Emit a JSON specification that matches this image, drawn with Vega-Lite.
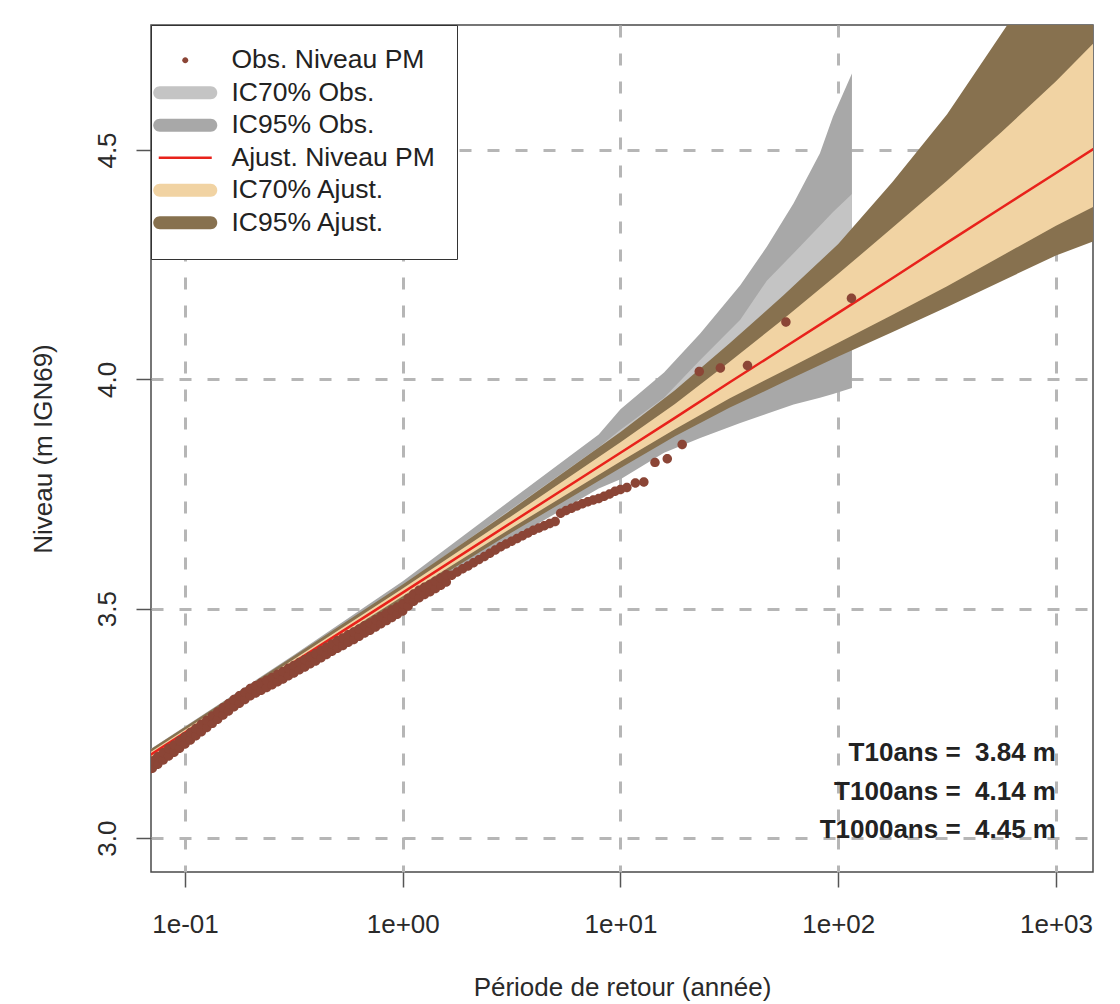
{
  "$schema": "https://vega.github.io/schema/vega-lite/v6.json",
  "width": 942,
  "height": 847,
  "autosize": {"type": "none"},
  "padding": {"left": 151, "top": 25, "right": 27, "bottom": 132},
  "background": "white",
  "config": {
    "font": "Liberation Sans",
    "view": {"stroke": "#4a4a4a", "strokeWidth": 1.5},
    "axis": {
      "domain": false,
      "grid": true,
      "gridColor": "#b6b6b6",
      "gridDash": [12, 16],
      "gridWidth": 3,
      "ticks": true,
      "tickColor": "#555555",
      "tickSize": 15,
      "tickWidth": 1.5,
      "labelFont": "Liberation Sans",
      "labelFontSize": 26,
      "labelColor": "#2a2a2a",
      "titleFont": "Liberation Sans",
      "titleFontSize": 26,
      "titleFontWeight": "normal",
      "titleColor": "#2a2a2a",
      "labelFlush": false,
      "labelOverlap": false,
      "zindex": 1
    }
  },
  "datasets": {
    "obs": [
      {"T":0.06683,"v":3.144},{"T":0.06683,"v":3.160},
      {"T":0.07079,"v":3.152},{"T":0.07079,"v":3.168},
      {"T":0.07499,"v":3.161},{"T":0.07499,"v":3.177},
      {"T":0.07943,"v":3.170},{"T":0.07943,"v":3.186},
      {"T":0.08414,"v":3.179},{"T":0.08414,"v":3.195},
      {"T":0.08913,"v":3.187},{"T":0.08913,"v":3.203},
      {"T":0.09441,"v":3.196},{"T":0.09441,"v":3.212},
      {"T":0.1,"v":3.205},{"T":0.1,"v":3.221},
      {"T":0.1059,"v":3.214},{"T":0.1059,"v":3.230},
      {"T":0.1122,"v":3.223},{"T":0.1122,"v":3.239},
      {"T":0.1189,"v":3.232},{"T":0.1189,"v":3.248},
      {"T":0.1259,"v":3.241},{"T":0.1259,"v":3.257},
      {"T":0.1334,"v":3.250},{"T":0.1334,"v":3.266},
      {"T":0.1413,"v":3.259},{"T":0.1413,"v":3.275},
      {"T":0.1496,"v":3.268},{"T":0.1496,"v":3.284},
      {"T":0.1585,"v":3.277},{"T":0.1585,"v":3.293},
      {"T":0.1679,"v":3.286},{"T":0.1679,"v":3.302},
      {"T":0.1778,"v":3.294},{"T":0.1778,"v":3.310},
      {"T":0.1884,"v":3.302},{"T":0.1884,"v":3.318},
      {"T":0.1995,"v":3.310},{"T":0.1995,"v":3.326},
      {"T":0.2113,"v":3.316},{"T":0.2113,"v":3.332},
      {"T":0.2239,"v":3.322},{"T":0.2239,"v":3.338},
      {"T":0.2371,"v":3.328},{"T":0.2371,"v":3.344},
      {"T":0.2512,"v":3.334},{"T":0.2512,"v":3.350},
      {"T":0.2661,"v":3.341},{"T":0.2661,"v":3.357},
      {"T":0.2818,"v":3.347},{"T":0.2818,"v":3.363},
      {"T":0.2985,"v":3.354},{"T":0.2985,"v":3.370},
      {"T":0.3162,"v":3.360},{"T":0.3162,"v":3.376},
      {"T":0.3350,"v":3.367},{"T":0.3350,"v":3.383},
      {"T":0.3548,"v":3.373},{"T":0.3548,"v":3.389},
      {"T":0.3758,"v":3.380},{"T":0.3758,"v":3.396},
      {"T":0.3981,"v":3.386},{"T":0.3981,"v":3.402},
      {"T":0.4217,"v":3.393},{"T":0.4217,"v":3.409},
      {"T":0.4467,"v":3.400},{"T":0.4467,"v":3.416},
      {"T":0.4732,"v":3.407},{"T":0.4732,"v":3.423},
      {"T":0.5012,"v":3.414},{"T":0.5012,"v":3.430},
      {"T":0.5309,"v":3.420},{"T":0.5309,"v":3.436},
      {"T":0.5623,"v":3.427},{"T":0.5623,"v":3.443},
      {"T":0.5957,"v":3.433},{"T":0.5957,"v":3.449},
      {"T":0.6310,"v":3.440},{"T":0.6310,"v":3.456},
      {"T":0.6683,"v":3.447},{"T":0.6683,"v":3.463},
      {"T":0.7079,"v":3.453},{"T":0.7079,"v":3.469},
      {"T":0.7499,"v":3.460},{"T":0.7499,"v":3.476},
      {"T":0.7943,"v":3.467},{"T":0.7943,"v":3.483},
      {"T":0.8414,"v":3.474},{"T":0.8414,"v":3.490},
      {"T":0.8913,"v":3.481},{"T":0.8913,"v":3.497},
      {"T":0.9441,"v":3.488},{"T":0.9441,"v":3.504},
      {"T":1.0,"v":3.495},{"T":1.0,"v":3.511},
      {"T":1.059,"v":3.506},{"T":1.059,"v":3.522},
      {"T":1.122,"v":3.516},{"T":1.122,"v":3.532},
      {"T":1.189,"v":3.524},{"T":1.189,"v":3.540},
      {"T":1.259,"v":3.531},{"T":1.259,"v":3.547},
      {"T":1.334,"v":3.537},{"T":1.334,"v":3.553},
      {"T":1.413,"v":3.544},{"T":1.413,"v":3.560},
      {"T":1.496,"v":3.551},{"T":1.496,"v":3.567},
      {"T":1.585,"v":3.558},{"T":1.585,"v":3.574},
      {"T":1.679,"v":3.573},
      {"T":1.778,"v":3.580},
      {"T":1.884,"v":3.587},
      {"T":1.995,"v":3.593},
      {"T":2.113,"v":3.600},
      {"T":2.239,"v":3.607},
      {"T":2.371,"v":3.614},
      {"T":2.512,"v":3.621},
      {"T":2.661,"v":3.628},
      {"T":2.818,"v":3.635},
      {"T":2.985,"v":3.641},
      {"T":3.162,"v":3.647},
      {"T":3.350,"v":3.653},
      {"T":3.548,"v":3.659},
      {"T":3.758,"v":3.665},
      {"T":3.981,"v":3.671},
      {"T":4.217,"v":3.676},
      {"T":4.467,"v":3.681},
      {"T":4.732,"v":3.686},
      {"T":5.012,"v":3.690},
      {"T":5.309,"v":3.708},
      {"T":5.623,"v":3.714},
      {"T":5.957,"v":3.719},
      {"T":6.310,"v":3.724},
      {"T":6.683,"v":3.729},
      {"T":7.079,"v":3.733},
      {"T":7.499,"v":3.737},
      {"T":7.943,"v":3.740},
      {"T":8.414,"v":3.745},
      {"T":8.913,"v":3.750},
      {"T":9.441,"v":3.756},
      {"T":10.0,"v":3.760},
      {"T":10.7,"v":3.764},
      {"T":11.7,"v":3.774},
      {"T":12.8,"v":3.776},
      {"T":14.4,"v":3.819},
      {"T":16.4,"v":3.827},
      {"T":19.2,"v":3.858},
      {"T":23.0,"v":4.017},
      {"T":28.75,"v":4.025},
      {"T":38.3,"v":4.030},
      {"T":57.5,"v":4.125},
      {"T":115.0,"v":4.177}
    ],
    "obsci": [
      {"T":0.0631,"lo95":3.158,"hi95":3.181,"lo70":3.167,"hi70":3.176},
      {"T":0.3162,"lo95":3.368,"hi95":3.399,"lo70":3.379,"hi70":3.392},
      {"T":1.0,"lo95":3.512,"hi95":3.560,"lo70":3.528,"hi70":3.550},
      {"T":3.162,"lo95":3.652,"hi95":3.738,"lo70":3.674,"hi70":3.718},
      {"T":7.943,"lo95":3.762,"hi95":3.880,"lo70":3.787,"hi70":3.852},
      {"T":10.0,"lo95":3.782,"hi95":3.935,"lo70":3.815,"hi70":3.890},
      {"T":15.85,"lo95":3.840,"hi95":4.015,"lo70":3.870,"hi70":3.960},
      {"T":23.23,"lo95":3.872,"hi95":4.100,"lo70":3.913,"hi70":4.042},
      {"T":35.48,"lo95":3.905,"hi95":4.205,"lo70":3.957,"hi70":4.130},
      {"T":46.99,"lo95":3.925,"hi95":4.289,"lo70":3.985,"hi70":4.215},
      {"T":62.37,"lo95":3.945,"hi95":4.384,"lo70":4.012,"hi70":4.275},
      {"T":82.41,"lo95":3.960,"hi95":4.493,"lo70":4.039,"hi70":4.335},
      {"T":94.62,"lo95":3.968,"hi95":4.573,"lo70":4.053,"hi70":4.365},
      {"T":115.6,"lo95":3.981,"hi95":4.667,"lo70":4.071,"hi70":4.404}
    ],
    "fit": [
      {"T":0.0631,"niveau":3.169,"lo95":3.159,"hi95":3.181,"lo70":3.164,"hi70":3.175},
      {"T":0.1,"niveau":3.230,"lo95":3.220,"hi95":3.242,"lo70":3.225,"hi70":3.236},
      {"T":0.3162,"niveau":3.383,"lo95":3.371,"hi95":3.397,"lo70":3.377,"hi70":3.390},
      {"T":1.0,"niveau":3.535,"lo95":3.520,"hi95":3.553,"lo70":3.527,"hi70":3.544},
      {"T":3.162,"niveau":3.688,"lo95":3.666,"hi95":3.716,"lo70":3.676,"hi70":3.702},
      {"T":10.0,"niveau":3.840,"lo95":3.807,"hi95":3.885,"lo70":3.821,"hi70":3.863},
      {"T":17.78,"niveau":3.916,"lo95":3.876,"hi95":3.976,"lo70":3.891,"hi70":3.946},
      {"T":31.62,"niveau":3.993,"lo95":3.938,"hi95":4.078,"lo70":3.958,"hi70":4.038},
      {"T":56.23,"niveau":4.069,"lo95":3.994,"hi95":4.184,"lo70":4.019,"hi70":4.132},
      {"T":100.0,"niveau":4.145,"lo95":4.050,"hi95":4.295,"lo70":4.080,"hi70":4.230},
      {"T":177.8,"niveau":4.221,"lo95":4.103,"hi95":4.431,"lo70":4.141,"hi70":4.331},
      {"T":316.2,"niveau":4.298,"lo95":4.158,"hi95":4.578,"lo70":4.203,"hi70":4.433},
      {"T":562.3,"niveau":4.374,"lo95":4.214,"hi95":4.754,"lo70":4.269,"hi70":4.539},
      {"T":1000.0,"niveau":4.450,"lo95":4.270,"hi95":4.930,"lo70":4.335,"hi70":4.650},
      {"T":1585.0,"niveau":4.511,"lo95":4.306,"hi95":5.091,"lo70":4.383,"hi70":4.746}
    ],
    "notes": [
      {"T":1000,"v":3.185,"label":"T10ans =\u00a0 3.84 m"},
      {"T":1000,"v":3.100,"label":"T100ans =\u00a0 4.14 m"},
      {"T":1000,"v":3.017,"label":"T1000ans =\u00a0 4.45 m"}
    ]
  },
  "encoding": {
    "x": {
      "field": "T",
      "type": "quantitative",
      "scale": {"type": "log", "domain": [0.0698, 1479], "nice": false},
      "axis": {
        "values": [0.1, 1, 10, 100, 1000],
        "labelExpr": "datum.value < 0.5 ? '1e-01' : datum.value < 5 ? '1e+00' : datum.value < 50 ? '1e+01' : datum.value < 500 ? '1e+02' : '1e+03'",
        "labelPadding": 24,
        "titlePadding": 37
      },
      "title": "Période de retour (année)"
    }
  },
  "layer": [
    {
      "data": {"name": "obsci"},
      "mark": {"type": "area", "clip": true, "opacity": 1},
      "encoding": {
        "y": {
          "field": "lo95",
          "type": "quantitative",
          "scale": {"domain": [2.926, 4.7725], "nice": false, "zero": false},
          "axis": {"values": [3, 3.5, 4, 4.5], "format": ".1f", "labelAngle": -90, "labelAlign": "center", "labelBaseline": "bottom", "labelPadding": 16, "titlePadding": 38},
          "title": "Niveau (m IGN69)"
        },
        "y2": {"field": "hi95"},
        "color": {
          "datum": "IC95% Obs.",
          "type": "nominal",
          "scale": {
            "domain": ["Obs. Niveau PM", "IC70% Obs.", "IC95% Obs.", "Ajust. Niveau PM", "IC70% Ajust.", "IC95% Ajust."],
            "range": ["#8b4536", "#c4c4c4", "#a8a8a8", "#e8221b", "#f1d3a3", "#87714f"]
          },
          "legend": {
            "orient": "none",
            "legendX": 0,
            "legendY": 0,
            "title": null,
            "fillColor": "white",
            "strokeColor": "#333333",
            "padding": 22,
            "symbolSize": 400,
            "symbolOffset": -1,
            "symbolStrokeWidth": 0,
            "labelOffset": 33,
            "labelFont": "Liberation Sans",
            "labelFontSize": 26.5,
            "labelColor": "#222222",
            "labelLimit": 400,
            "labelExpr": "datum.label + '\u00a0\u00a0\u00a0\u00a0'",
            "rowPadding": 5.5,
            "zindex": 2
          }
        }
      }
    },
    {
      "data": {"name": "obsci"},
      "mark": {"type": "area", "clip": true, "opacity": 1},
      "encoding": {
        "y": {"field": "lo70", "type": "quantitative", "title": "Niveau (m IGN69)"},
        "y2": {"field": "hi70"},
        "color": {"datum": "IC70% Obs.", "type": "nominal"}
      }
    },
    {
      "data": {"name": "fit"},
      "mark": {"type": "area", "clip": true, "opacity": 1},
      "encoding": {
        "y": {"field": "lo95", "type": "quantitative", "title": "Niveau (m IGN69)"},
        "y2": {"field": "hi95"},
        "color": {"datum": "IC95% Ajust.", "type": "nominal"}
      }
    },
    {
      "data": {"name": "fit"},
      "mark": {"type": "area", "clip": true, "opacity": 1},
      "encoding": {
        "y": {"field": "lo70", "type": "quantitative", "title": "Niveau (m IGN69)"},
        "y2": {"field": "hi70"},
        "color": {"datum": "IC70% Ajust.", "type": "nominal"}
      }
    },
    {
      "data": {"name": "fit"},
      "mark": {"type": "line", "clip": true, "strokeWidth": 2.5, "opacity": 1},
      "encoding": {
        "y": {"field": "niveau", "type": "quantitative", "title": "Niveau (m IGN69)"},
        "color": {"datum": "Ajust. Niveau PM", "type": "nominal"}
      }
    },
    {
      "data": {"name": "obs"},
      "mark": {"type": "point", "filled": true, "opacity": 1, "size": 1000, "clip": true, "strokeWidth": 0},
      "encoding": {
        "y": {"field": "v", "type": "quantitative", "title": "Niveau (m IGN69)"},
        "color": {"datum": "Obs. Niveau PM", "type": "nominal"},
        "shape": {
          "datum": "Obs. Niveau PM",
          "type": "nominal",
          "scale": {
            "domain": ["Obs. Niveau PM", "IC70% Obs.", "IC95% Obs.", "Ajust. Niveau PM", "IC70% Ajust.", "IC95% Ajust."],
            "range": [
              "M-0.3,0A0.3,0.3,0,1,0,0.3,0A0.3,0.3,0,1,0,-0.3,0Z",
              "M-2.55,-0.65H2.55A0.65,0.65,0,0,1,2.55,0.65H-2.55A0.65,0.65,0,0,1,-2.55,-0.65Z",
              "M-2.55,-0.65H2.55A0.65,0.65,0,0,1,2.55,0.65H-2.55A0.65,0.65,0,0,1,-2.55,-0.65Z",
              "M-2.65,-0.12H2.65V0.12H-2.65Z",
              "M-2.55,-0.65H2.55A0.65,0.65,0,0,1,2.55,0.65H-2.55A0.65,0.65,0,0,1,-2.55,-0.65Z",
              "M-2.55,-0.65H2.55A0.65,0.65,0,0,1,2.55,0.65H-2.55A0.65,0.65,0,0,1,-2.55,-0.65Z"
            ]
          }
        }
      }
    },
    {
      "data": {"name": "notes"},
      "mark": {"type": "text", "align": "right", "baseline": "middle", "font": "Liberation Sans", "fontSize": 26, "fontWeight": "bold", "color": "#222222"},
      "encoding": {
        "y": {"field": "v", "type": "quantitative", "title": "Niveau (m IGN69)"},
        "text": {"field": "label"}
      }
    }
  ]
}
